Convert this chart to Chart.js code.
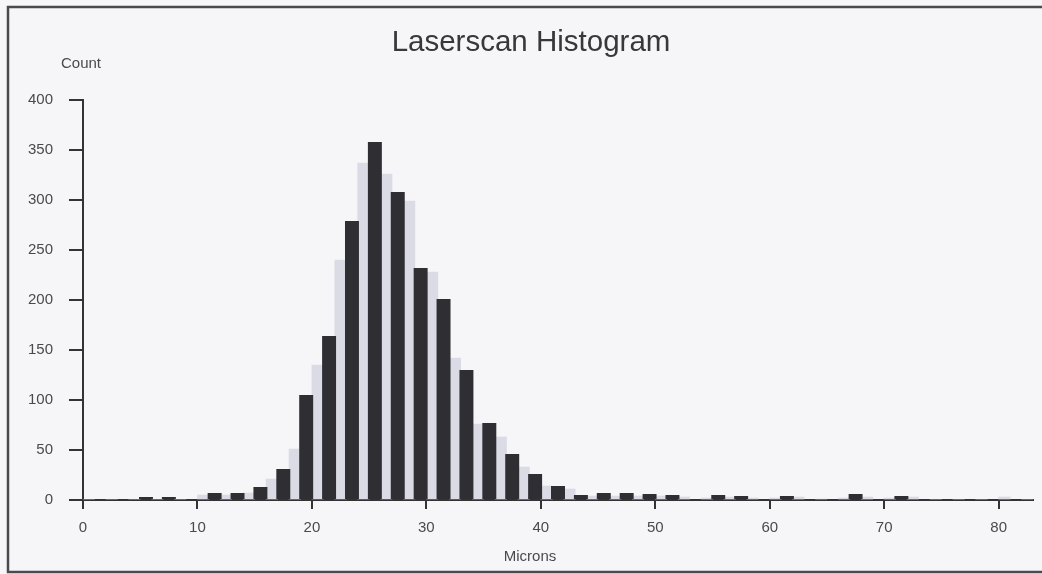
<!DOCTYPE html>
<html>
<head>
<meta charset="utf-8">
<title>Laserscan Histogram</title>
<script src="https://cdn.jsdelivr.net/npm/chart.js@4.4.1/dist/chart.umd.min.js"></script>
<style>
  html, body { margin: 0; padding: 0; background: #f6f6f8; }
  canvas { display: block; }
</style>
</head>
<body>
<canvas id="histChart" width="1042" height="574"></canvas>
<script>
// bin left edges (microns), 1-micron bins, alternating shades
const darkBins = [1, 3, 5, 7, 9, 11, 13, 15, 17, 19, 21, 23, 25, 27, 29, 31, 33, 35, 37, 39,
  41, 43, 45, 47, 49, 51, 53, 55, 57, 59, 61, 63, 65, 67, 69, 71, 73, 75, 77, 79, 81];
const darkCounts = [0, 0, 3, 3, 1, 7, 7, 13, 31, 105, 164, 279, 358, 308, 232, 201, 130, 77, 46, 26,
  14, 5, 7, 7, 6, 5, 1, 5, 4, 1, 4, 1, 1, 6, 1, 4, 1, 1, 1, 1, 0];

const lightBins = [0, 2, 4, 6, 8, 10, 12, 14, 16, 18, 20, 22, 24, 26, 28, 30, 32, 34, 36, 38,
  40, 42, 44, 46, 48, 50, 52, 54, 56, 58, 60, 62, 64, 66, 68, 70, 72, 74, 76, 78, 80, 82];
const lightCounts = [0, 0, 0, 0, 0, 5, 5, 7, 21, 51, 135, 240, 337, 326, 299, 228, 142, 76, 63, 33,
  14, 11, 4, 4, 4, 4, 3, 2, 3, 2, 2, 3, 1, 2, 3, 2, 3, 0, 0, 0, 3, 0];

const xTicks = [0, 10, 20, 30, 40, 50, 60, 70, 80];
const yTicks = [0, 50, 100, 150, 200, 250, 300, 350, 400];

const chartTitle = 'Laserscan Histogram';
const yTitle = 'Count';
const xTitle = 'Microns';

const FONT = '"Liberation Sans", Arial, sans-serif';

const toPoints = (bins, counts) => bins.map((b, i) => ({ x: b + 0.5, y: counts[i] }));

const decor = {
  id: 'decor',
  beforeDraw(chart) {
    const c = chart.ctx;
    c.save();
    c.fillStyle = '#f6f6f8';
    c.fillRect(0, 0, chart.width, chart.height);
    c.restore();
  },
  afterDraw(chart) {
    const c = chart.ctx;
    c.save();
    // scanned frame
    c.strokeStyle = '#4a4a4e';
    c.lineWidth = 2.5;
    c.strokeRect(8, 7, chart.width + 20, 565);

    c.fillStyle = '#38383c';
    c.textAlign = 'center';
    c.textBaseline = 'middle';
    c.font = '29.5px ' + FONT;
    c.fillText(chartTitle, 531, 43);

    c.fillStyle = '#4a4a4e';
    c.font = '15px ' + FONT;
    c.textAlign = 'left';
    c.fillText(yTitle, 61, 64);
    c.textAlign = 'center';
    c.fillText(xTitle, 530, 557);
    c.restore();
  }
};

const ctx = document.getElementById('histChart').getContext('2d');

new Chart(ctx, {
  type: 'bar',
  data: {
    datasets: [
      {
        label: 'dark',
        data: toPoints(darkBins, darkCounts),
        backgroundColor: '#2f2f33',
        grouped: false,
        categoryPercentage: 1,
        barPercentage: 1.22,
        borderWidth: 0
      },
      {
        label: 'light',
        data: toPoints(lightBins, lightCounts),
        backgroundColor: '#dadbe5',
        grouped: false,
        categoryPercentage: 1,
        barPercentage: 1.0,
        borderWidth: 0
      }
    ]
  },
  plugins: [decor],
  options: {
    responsive: false,
    animation: false,
    devicePixelRatio: 1,
    layout: { padding: { top: 100, right: 9, left: 0, bottom: 0 } },
    plugins: {
      legend: { display: false },
      tooltip: { enabled: false },
      title: { display: false }
    },
    scales: {
      x: {
        type: 'linear',
        min: 0,
        max: 83,
        offset: false,
        border: { color: '#333336', width: 2 },
        grid: { offset: false, drawOnChartArea: false, drawTicks: true, tickLength: 9, color: '#333336', lineWidth: 2 },
        afterBuildTicks: (scale) => { scale.ticks = xTicks.map(v => ({ value: v })); },
        ticks: {
          autoSkip: false,
          maxRotation: 0,
          padding: 10,
          color: '#4a4a4e',
          font: { family: FONT, size: 15 }
        },
        afterFit: (scale) => { scale.height = 74; }
      },
      y: {
        min: 0,
        max: 400,
        border: { color: '#333336', width: 2 },
        grid: { offset: false, drawOnChartArea: false, drawTicks: true, tickLength: 14, color: '#333336', lineWidth: 2 },
        afterBuildTicks: (scale) => { scale.ticks = yTicks.map(v => ({ value: v })); },
        ticks: {
          padding: 16,
          color: '#4a4a4e',
          font: { family: FONT, size: 15 }
        },
        afterFit: (scale) => { scale.width = 83; }
      }
    }
  }
});
</script>
</body>
</html>
